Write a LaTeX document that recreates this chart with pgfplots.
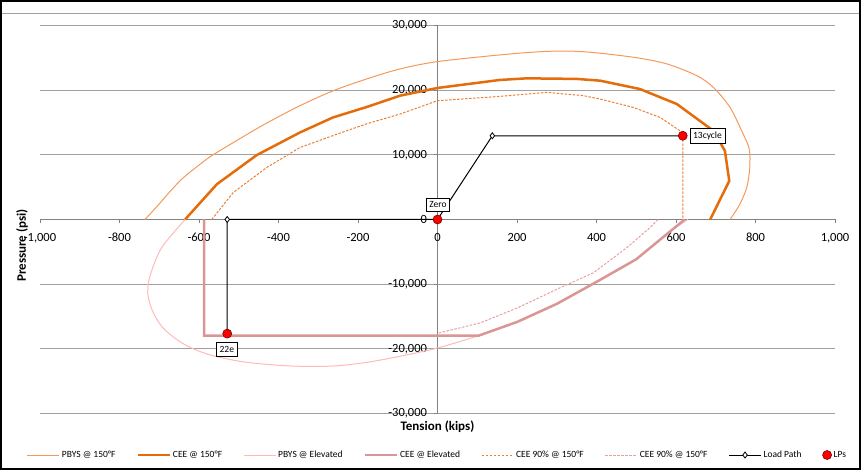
\documentclass[border=0pt]{standalone}
\usepackage{fontspec}
\setmainfont{Carlito}
\usepackage{pgfplots}
\pgfplotsset{compat=1.18}
\definecolor{pbys150}{RGB}{244,152,92}
\definecolor{cee150}{RGB}{228,108,10}
\definecolor{cee90}{RGB}{236,128,50}
\definecolor{pbyselev}{RGB}{255,185,185}
\definecolor{ceeelev}{RGB}{218,150,148}
\definecolor{cee90elev}{RGB}{232,160,160}
\definecolor{gridgray}{RGB}{160,160,160}
\definecolor{axgray}{RGB}{130,130,130}
\begin{document}
\begin{tikzpicture}
\begin{axis}[
  at={(0,0)}, anchor=south west, scale only axis, width=795pt, height=388pt,
  xmin=-1000, xmax=1000, ymin=-30000, ymax=30000,
  axis lines=middle, axis line style={-, draw=axgray, line width=1pt},
  xtick={-1000,-800,...,1000}, ytick={-30000,-20000,...,30000},
  hide obscured x ticks=false, hide obscured y ticks=false,
  ymajorgrids, grid style={gridgray, line width=1pt},
  tick style={axgray, line width=0.8pt}, major tick length=4pt,
  xtick align=outside, ytick align=outside,
  scaled ticks=false,
  /pgf/number format/1000 sep={,},
  /pgf/number format/assume math mode=true,
  tick label style={font=\fontsize{12.5}{14}\selectfont},
  xticklabel style={yshift=-6pt},
  yticklabel style={xshift=-3pt},
  xlabel={Tension (kips)}, ylabel={Pressure (psi)},
  xlabel style={at={(axis description cs:0.5,-0.034)}, anchor=center, font=\bfseries\fontsize{13}{15}\selectfont},
  ylabel style={at={(axis description cs:-0.0226,0.433)}, anchor=center, rotate=90, font=\bfseries\fontsize{13}{15}\selectfont},
  legend style={at={(0.5,-0.107)}, anchor=center, draw=none, fill=none, legend columns=8,
    font=\fontsize{9.5}{11}\selectfont, /tikz/every even column/.append style={column sep=19pt}},
  legend cell align=left,
  legend image code/.code={\draw[mark repeat=2,mark phase=2,#1] plot coordinates {(0pt,0pt) (16pt,0pt) (32pt,0pt)};},
]
% PBYS @ 150F
\addplot[pbys150, line width=1pt, smooth, tension=0.5] coordinates {
 (-736,0) (-706,2000) (-648,5970) (-597,8560) (-566,9950) (-500,12400) (-430,14900) (-346,17600)
 (-262,19920) (-178,21740) (-94,23290) (0,24420) (157,25450) (275,26000) (367,25950)
 (493,25090) (577,24060) (652,22250) (694,20430) (736,17330) (766,13600) (782,11400) (786,9950)
 (785,7600) (778,4930) (760,2300) (736,0)};
\addlegendentry{PBYS @ 150°F}
% CEE @ 150F
\addplot[cee150, line width=2.5pt] coordinates {
 (-635,0) (-555,5460) (-455,9950) (-346,13460) (-263,15780) (-178,17400) (-94,19150)
 (0,20340) (157,21580) (224,21830) (350,21740) (409,21470) (509,20180) (602,17860)
 (694,13720) (723,10620) (734,5970) (686,0)};
\addlegendentry{CEE @ 150°F}
% PBYS @ Elevated
\addplot[pbyselev, line width=1pt, smooth, tension=0.5] coordinates {
 (-635,0) (-694,-4370) (-722,-8500) (-729,-11300) (-718,-14000) (-690,-16800)
 (-640,-19200) (-580,-20800) (-500,-21900) (-421,-22450) (-346,-22700) (-260,-22650)
 (-178,-22090) (-90,-21100) (0,-19870) (104,-17950) (200,-15850) (300,-13050)
 (400,-9650) (500,-6100) (577,-2200) (630,0)};
\addlegendentry{PBYS @ Elevated}
% CEE @ Elevated
\addplot[ceeelev, line width=2.5pt] coordinates {
 (-587,0) (-587,-17950) (104,-17950) (200,-15850) (300,-13050) (400,-9650)
 (500,-6150) (577,-2250) (622,0)};
\addlegendentry{CEE @ Elevated}
% CEE 90% @ 150F
\addplot[cee90, line width=1pt, dash pattern=on 2.5pt off 1.5pt] coordinates {
 (-568,0) (-514,4160) (-430,8030) (-346,11130) (-262,13000) (-178,14800) (-94,16310)
 (0,18370) (157,19040) (275,19660) (367,19150) (409,18630) (493,17330) (560,15780)
 (610,13720) (617,12950) (617,0)};
\addlegendentry{CEE 90\% @ 150°F}
% CEE 90% @ Elevated (labelled 150F in source)
\addplot[cee90elev, line width=1pt, dash pattern=on 2.5pt off 1.5pt] coordinates {
 (555,0) (535,-1230) (476,-4370) (392,-8250) (308,-10570) (200,-13700) (107,-16000) (0,-17600)};
\addlegendentry{CEE 90\% @ 150°F}
% Load path
\addplot[black, line width=1pt, mark=diamond*, mark size=3pt, mark options={fill=white, solid, line width=0.8pt}] coordinates {
 (-529,-17650) (-529,0) (0,0) (138,12950) (617,12950)};
\addlegendentry{Load Path}
% LPs
\addplot[only marks, mark=*, mark size=4.5pt, mark options={fill=red, draw=red!45!black, line width=0.6pt}] coordinates {
 (-529,-17650) (0,0) (617,12950)};
\addlegendentry{LPs}
\node[draw=black, fill=white, font=\fontsize{9.5}{11}\selectfont, inner xsep=3pt, inner ysep=3.5pt, anchor=center] at (axis cs:1,2326) {Zero};
\node[draw=black, fill=white, font=\fontsize{9.5}{11}\selectfont, inner xsep=3pt, inner ysep=3.5pt, anchor=west] at (axis cs:635,12950) {13cycle};
\node[draw=black, fill=white, font=\fontsize{9.5}{11}\selectfont, inner xsep=3pt, inner ysep=3.5pt, anchor=north] at (axis cs:-530,-19000) {22e};
\end{axis}
\pgfresetboundingbox
\path[use as bounding box] (-40pt,-56.5pt) rectangle (821pt,413.5pt);
\draw[black, line width=2pt] (-39pt,-55.5pt) rectangle (820pt,412.5pt);
\draw[gridgray, line width=0.8pt] (-38pt,400.5pt) -- (819pt,400.5pt);
\end{tikzpicture}
\end{document}
